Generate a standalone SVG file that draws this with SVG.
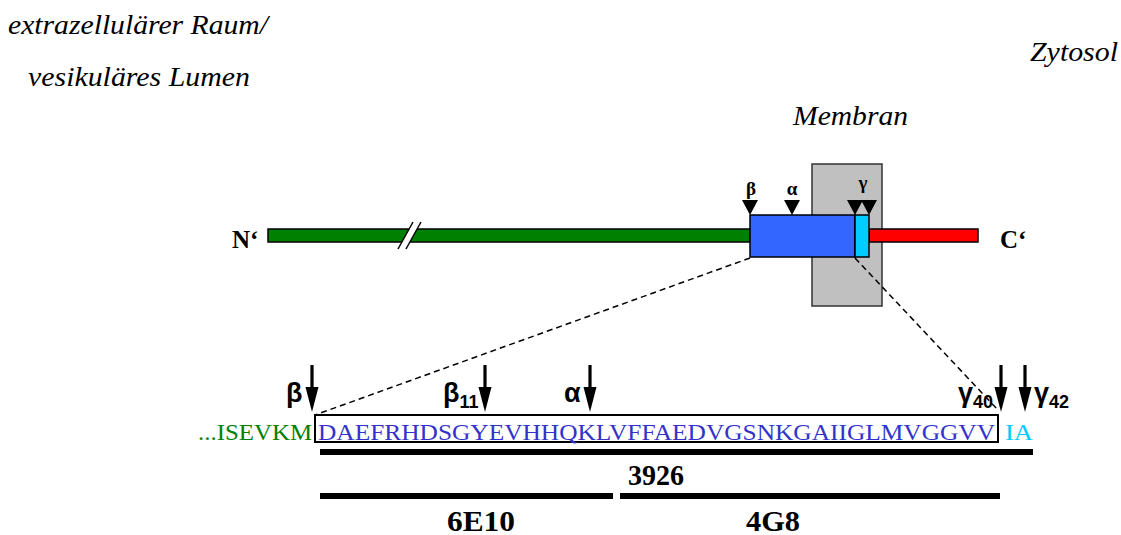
<svg xmlns="http://www.w3.org/2000/svg" width="1121" height="535" viewBox="0 0 1121 535">
<style>
.it{font-family:"Liberation Serif",serif;font-style:italic;font-size:28px;fill:#000}
.bl{font-family:"Liberation Serif",serif;font-weight:bold;fill:#000}
.gr{font-family:"Liberation Sans",Arial,sans-serif;fill:#000}
.sm{font-family:"Liberation Serif",serif;font-weight:bold;fill:#000;font-size:19px}
.seq{font-family:"Liberation Serif",serif;font-size:24px}
.bar{stroke:#000;stroke-width:1.5}
.tri{fill:#000}
.dash{stroke:#000;stroke-width:1.5;stroke-dasharray:6 4;fill:none}
</style>
<defs>
<g id="ad"><rect x="-1.6" y="0" width="3.2" height="26"/><polygon points="-6.5,22 6.5,22 0,47"/></g>
</defs>
<rect width="1121" height="535" fill="#fff"/>
<g id="labels">
<text class="it" x="8" y="34" textLength="260" lengthAdjust="spacingAndGlyphs">extrazellulärer Raum/</text>
<text class="it" x="28" y="86" textLength="222" lengthAdjust="spacingAndGlyphs">vesikuläres Lumen</text>
<text class="it" x="1030" y="61" textLength="88" lengthAdjust="spacingAndGlyphs">Zytosol</text>
<text class="it" x="793" y="125" textLength="115" lengthAdjust="spacingAndGlyphs">Membran</text>
</g>
<g id="membrane"><rect x="812" y="164" width="70" height="142" fill="#c0c0c0" stroke="#333" stroke-width="1.5"/></g>
<g id="protein">
<rect class="bar" x="268" y="229" width="482" height="13" fill="#008000"/>
<polygon points="398,249 406,249 421,222 413,222" fill="#fff"/>
<line x1="398" y1="249" x2="413" y2="222" stroke="#000" stroke-width="1.5"/>
<line x1="406" y1="249" x2="421" y2="222" stroke="#000" stroke-width="1.5"/>
<rect class="bar" x="869" y="229" width="109" height="13" fill="#ff0000"/>
<rect class="bar" x="750" y="215" width="105" height="42" fill="#3366ff"/>
<rect class="bar" x="855" y="215" width="14" height="42" fill="#00ccff"/>
<text class="bl" x="232" y="248" font-size="25">N‘</text>
<text class="bl" x="1000" y="248" font-size="25">C‘</text>
</g>
<g id="cleavage-top">
<polygon class="tri" points="742,200 758,200 750,215"/>
<polygon class="tri" points="784,200 800,200 792,215"/>
<polygon class="tri" points="847,200 863,200 855,215"/>
<polygon class="tri" points="861,200 877,200 869,215"/>
<text class="sm" x="751" y="195" text-anchor="middle">β</text>
<text class="sm" x="792" y="195" text-anchor="middle">α</text>
<text class="sm" x="863" y="189" text-anchor="middle">γ</text>
</g>
<g id="connectors">
<line class="dash" x1="750" y1="258" x2="315" y2="415"/>
<line class="dash" x1="855" y1="258" x2="998" y2="410"/>
</g>
<g id="sequence">
<rect x="315" y="415" width="683" height="27" fill="none" stroke="#000" stroke-width="2"/>
<text class="seq" x="198" y="440" fill="#008000" textLength="114" lengthAdjust="spacingAndGlyphs">...ISEVKM</text>
<text class="seq" x="318" y="440" fill="#3333cc" textLength="677" lengthAdjust="spacingAndGlyphs">DAEFRHDSGYEVHHQKLVFFAEDVGSNKGAIIGLMVGGVV</text>
<text class="seq" x="1005" y="440" fill="#00ccff" textLength="28" lengthAdjust="spacingAndGlyphs">IA</text>
</g>
<g id="cleavage-bottom">
<use href="#ad" x="312" y="365"/>
<use href="#ad" x="485" y="365"/>
<use href="#ad" x="590" y="365"/>
<use href="#ad" x="1001" y="365"/>
<use href="#ad" x="1025" y="365"/>
<text class="gr" x="286" y="402" font-size="27" font-weight="bold">β</text>
<text class="gr" x="443" y="402" font-size="27" font-weight="bold">β<tspan font-size="18" dy="6">11</tspan></text>
<text class="gr" x="564" y="402" font-size="27" font-weight="bold">α</text>
<text class="gr" x="958" y="402" font-size="27" font-weight="bold">γ<tspan font-size="18" dy="6">40</tspan></text>
<text class="gr" x="1034" y="402" font-size="27" font-weight="bold">γ<tspan font-size="18" dy="6">42</tspan></text>
</g>
<g id="antibodies">
<rect x="320" y="449" width="713" height="6" fill="#000"/>
<rect x="320" y="493" width="293" height="6" fill="#000"/>
<rect x="620" y="493" width="380" height="6" fill="#000"/>
<text class="bl" x="628" y="485" font-size="30" textLength="56" lengthAdjust="spacingAndGlyphs">3926</text>
<text class="bl" x="447" y="531" font-size="30" textLength="68" lengthAdjust="spacingAndGlyphs">6E10</text>
<text class="bl" x="746" y="531" font-size="30" textLength="54" lengthAdjust="spacingAndGlyphs">4G8</text>
</g>
</svg>
